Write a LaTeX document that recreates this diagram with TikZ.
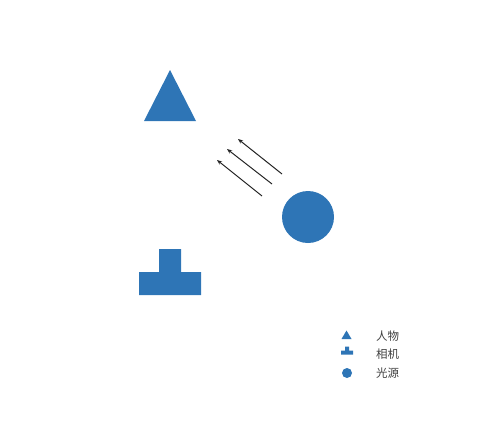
\documentclass[tikz,border=0pt]{standalone}
\usepackage{fontspec}
\newfontfamily\cjk{Noto Sans CJK SC}
\usetikzlibrary{arrows.meta}
\definecolor{shapeblue}{RGB}{46,117,182}
\definecolor{raygray}{RGB}{35,35,35}
\begin{document}
\begin{tikzpicture}[x=1pt,y=-1pt,
  blueshape/.style={fill=shapeblue,draw=none},
  ray/.style={draw=raygray,line width=1pt,-{Stealth[length=5pt,width=4pt]}},
  legendtext/.style={font=\cjk\fontsize{11.5}{13}\selectfont,text=black!75,anchor=west,inner sep=0pt}]
\useasboundingbox (0,0) rectangle (500,437);
% person (triangle)
\path[blueshape] (170,70) -- (196,121) -- (144,121) -- cycle;
\coordinate (person) at (170,100);
% camera (T shape)
\path[blueshape] (159,249) -- (181,249) -- (181,272) -- (201,272) -- (201,295)
  -- (139,295) -- (139,272) -- (159,272) -- cycle;
\coordinate (camera) at (170,280);
% light source (circle)
\node[blueshape,circle,minimum size=52pt,inner sep=0pt] (light) at (308,217) {};
% rays
\coordinate (r1s) at (282,174); \coordinate (r1e) at (238,139);
\coordinate (r2s) at (272,184); \coordinate (r2e) at (227,149);
\coordinate (r3s) at (262,196); \coordinate (r3e) at (217,160);
\draw[ray] (r1s) -- (r1e);
\draw[ray] (r2s) -- (r2e);
\draw[ray] (r3s) -- (r3e);
% legend
\path[blueshape] (346.5,330.5) -- (351.5,339) -- (341.5,339) -- cycle;
\path[blueshape] (345,346.5) -- (349,346.5) -- (349,350.5) -- (353,350.5) -- (353,354.5)
  -- (341,354.5) -- (341,350.5) -- (345,350.5) -- cycle;
\node[blueshape,circle,minimum size=10pt,inner sep=0pt] (lgc) at (347,373) {};
\node[legendtext] (t1) at (376,336) {人物};
\node[legendtext] (t2) at (376,354) {相机};
\node[legendtext] (t3) at (376,373) {光源};
\end{tikzpicture}
\end{document}
